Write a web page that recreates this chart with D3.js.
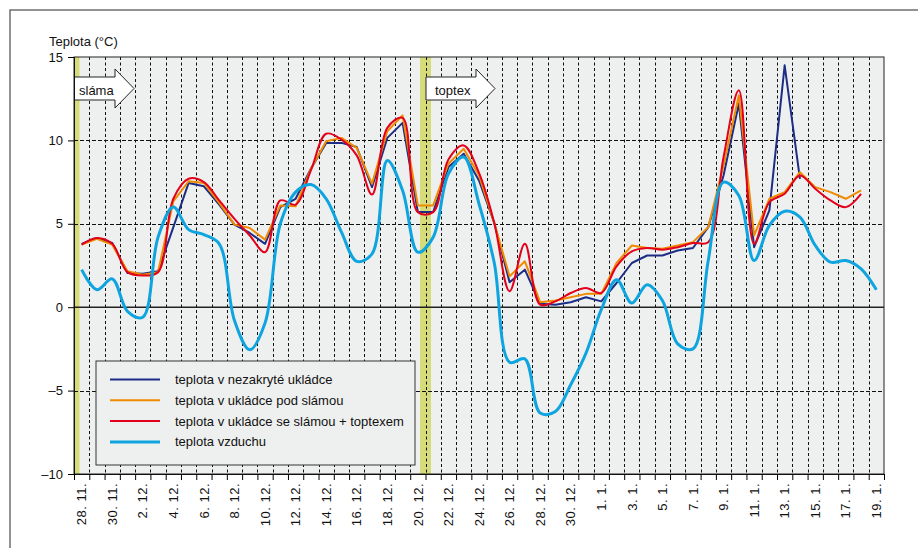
<html>
<head>
  <meta charset="UTF-8">
  <title>Teplota</title>
  <script src="https://d3js.org/d3.v7.min.js"></script>
  <style>
    body { margin: 0; background: #fff; }
    text { font-family: "Liberation Sans", Arial, sans-serif; }
  </style>
</head>
<body>
<svg id="svg1" width="918" height="548"></svg>
<script>

    // categories: one per day, 28.11. .. 19.1.
    const days = ["28. 11.", "29. 11.", "30. 11.", "1. 12.", "2. 12.", "3. 12.", "4. 12.", "5. 12.", "6. 12.",
        "7. 12.", "8. 12.", "9. 12.", "10. 12.", "11. 12.", "12. 12.", "13. 12.", "14. 12.", "15. 12.",
        "16. 12.", "17. 12.", "18. 12.", "19. 12.", "20. 12.", "21. 12.", "22. 12.", "23. 12.", "24. 12.",
        "25. 12.", "26. 12.", "27. 12.", "28. 12.", "29. 12.", "30. 12.", "31. 12.", "1. 1.", "2. 1.",
        "3. 1.", "4. 1.", "5. 1.", "6. 1.", "7. 1.", "8. 1.", "9. 1.", "10. 1.", "11. 1.", "12. 1.",
        "13. 1.", "14. 1.", "15. 1.", "16. 1.", "17. 1.", "18. 1.", "19. 1."];

    // every second day gets a label
    const dayLabels = days.filter((d, i) => i % 2 === 0);

    const yTicks = [-10, -5, 0, 5, 10, 15];

    const nezakryta = [3.8, 4.15, 3.85, 2.05, 2.0, 2.15, 4.8, 7.45, 7.25, 6.15, 4.95, 4.45, 3.8,
        6.0, 6.5, 8.3, 9.85, 9.85, 9.6, 7.2, 10.15, 11.05, 5.7, 5.7, 8.4, 9.2, 7.6,
        5.05, 1.5, 2.25, 0.2, 0.15, 0.3, 0.6, 0.35, 1.45, 2.65, 3.1, 3.1, 3.4, 3.55,
        4.8, 7.9, 12.2, 3.6, 5.8, 14.5, 7.7, null, null, null, null, null];

    const podSlamou = [3.75, 4.1, 3.75, 2.15, 1.95, 2.1, 6.35, 7.55, 7.45, 6.25, 4.95, 4.75, 4.05,
        6.1, 6.05, 8.3, 9.95, 10.15, 9.55, 7.4, 10.55, 11.5, 6.1, 6.1, 8.6, 9.5, 7.9,
        5.05, 1.85, 2.75, 0.3, 0.4, 0.6, 0.8, 0.8, 2.65, 3.7, 3.55, 3.5, 3.7, 3.9,
        4.8, 8.5, 12.7, 4.3, 6.5, 6.9, 8.1, 7.2, 6.9, 6.5, 7.0, null];

    const slamaToptex = [3.75, 4.15, 3.8, 2.1, 1.9, 2.1, 6.5, 7.7, 7.5, 6.4, 5.3, 4.3, 3.3,
        6.4, 6.15, 8.2, 10.4, 10.05, 9.1, 6.75, 10.75, 11.35, 5.7, 5.7, 8.85, 9.7, 8.05,
        5.05, 0.95, 3.8, 0.15, 0.35, 0.85, 1.15, 0.85, 2.45, 3.35, 3.55, 3.45, 3.6, 3.85,
        3.9, 9.0, 13.0, 3.8, 6.3, 6.8, 7.9, 7.1, 6.4, 6.0, 6.8, null];

    const vzduch = [2.25, 1.05, 1.7, -0.25, -0.6, 4.2, 6.0, 4.65, 4.35, 3.8, -0.8, -2.55, -0.95,
        5.0, 6.9, 7.35, 6.5, 4.5, 2.75, 3.2, 8.8, 7.0, 3.3, 4.2, 8.0, 9.0, 6.2,
        2.65, -3.3, -3.1, -6.35, -6.25, -4.65, -2.75, -0.15, 1.65, 0.25, 1.35, 0.4, -2.2, -2.5,
        2.8, 7.5, 6.7, 2.8, 4.9, 5.75, 5.4, 3.7, 2.7, 2.8, 2.3, 1.05];

    // events: start of covering (index of day boundary)
    const eventNames = ["sláma", "toptex"];
    const eventDays = [0, 23];

    const series = [
        { name: "teplota v nezakryté ukládce", values: nezakryta, color: "#1d2d86", width: 2, smooth: false },
        { name: "teplota v ukládce pod slámou", values: podSlamou, color: "#f08a00", width: 2, smooth: false },
        { name: "teplota v ukládce se slámou + toptexem", values: slamaToptex, color: "#e3001b", width: 2, smooth: true },
        { name: "teplota vzduchu", values: vzduch, color: "#0ea4df", width: 3, smooth: true }
    ];

    const svg1 = d3.select("#svg1");
    const plotLeft = 74, plotRight = 884, plotTop = 57, plotBottom = 474;

    const xScale = d3.scaleBand().domain(days).range([plotLeft, plotRight]);
    const bw = xScale.bandwidth();
    const xEdge = d3.scaleLinear().domain([0, days.length]).range([plotLeft, plotRight]);
    const yScale = d3.scaleLinear().domain([-10, 15]).range([plotBottom, plotTop]);
    const crisp = v => Math.round(v) + 0.5;

    // outer frame
    svg1.append("rect")
        .attr("x", 10).attr("y", 10).attr("width", 940).attr("height", 560)
        .attr("fill", "none").attr("stroke", "#6f6f6f").attr("stroke-width", 1.5);

    // plot background
    svg1.append("rect")
        .attr("x", plotLeft).attr("y", plotTop)
        .attr("width", plotRight - plotLeft).attr("height", plotBottom - plotTop)
        .attr("fill", "#eef0ef");

    // yellow event bars
    svg1.append("clipPath").attr("id", "plotclip")
        .append("rect")
        .attr("x", plotLeft).attr("y", plotTop)
        .attr("width", plotRight - plotLeft).attr("height", plotBottom - plotTop);

    svg1.append("g").attr("clip-path", "url(#plotclip)")
        .selectAll("rect").data(eventDays).join("rect")
        .attr("x", d => xEdge(d) - 5.5)
        .attr("y", plotTop)
        .attr("width", 11)
        .attr("height", plotBottom - plotTop)
        .attr("fill", "#d6dc79");

    // vertical gridlines at day boundaries
    svg1.append("g")
        .selectAll("line").data(d3.range(1, days.length)).join("line")
        .attr("x1", d => crisp(xEdge(d))).attr("x2", d => crisp(xEdge(d)))
        .attr("y1", plotTop).attr("y2", plotBottom)
        .attr("stroke", "#111").attr("stroke-width", 1)
        .attr("stroke-dasharray", "3,2.5");

    // horizontal gridlines
    svg1.append("g")
        .selectAll("line").data([-5, 5, 10]).join("line")
        .attr("x1", plotLeft).attr("x2", plotRight)
        .attr("y1", d => crisp(yScale(d))).attr("y2", d => crisp(yScale(d)))
        .attr("stroke", "#111").attr("stroke-width", 1)
        .attr("stroke-dasharray", "4,2");

    svg1.append("line")
        .attr("x1", plotLeft).attr("x2", plotRight)
        .attr("y1", yScale(0)).attr("y2", yScale(0))
        .attr("stroke", "#222").attr("stroke-width", 1.6);

    // plot border
    svg1.append("rect")
        .attr("x", plotLeft).attr("y", plotTop)
        .attr("width", plotRight - plotLeft).attr("height", plotBottom - plotTop)
        .attr("fill", "none").attr("stroke", "#222").attr("stroke-width", 1);

    // arrows
    const arrowLen = [60, 69];
    const arrows = svg1.append("g").selectAll("g").data(eventNames).join("g")
        .attr("transform", (d, i) => `translate(${xEdge(eventDays[i]) + (i === 0 ? 0 : 0.5)},0)`);

    arrows.append("path")
        .attr("d", (d, i) => {
            const L = arrowLen[i], h = L - 19;
            return `M0,77 H${h} V69 L${L},88.5 L${h},108 V100 H0 ` + (i === 0 ? "" : "Z");
        })
        .attr("fill", "#fff").attr("stroke", "#222").attr("stroke-width", 1);

    arrows.append("text")
        .attr("x", (d, i) => i === 0 ? 5 : 9)
        .attr("y", 95)
        .attr("font-size", "13px")
        .attr("fill", "#111")
        .text(d => d);

    // series lines
    const lineLinear = d3.line()
        .defined(d => d != null)
        .x((d, i) => xScale(days[i]) + bw / 2)
        .y(d => yScale(d));
    const lineSmooth = d3.line()
        .defined(d => d != null)
        .x((d, i) => xScale(days[i]) + bw / 2)
        .y(d => yScale(d))
        .curve(d3.curveCatmullRom);

    svg1.append("g").selectAll("path").data(series).join("path")
        .attr("d", s => (s.smooth ? lineSmooth : lineLinear)(s.values))
        .attr("fill", "none")
        .attr("stroke", s => s.color)
        .attr("stroke-width", s => s.width)
        .attr("stroke-linejoin", "round");

    // axes
    const leftAxis = d3.axisLeft(yScale).tickValues(yTicks).tickSize(6).tickPadding(5)
        .tickFormat(d => d < 0 ? "\u2013" + Math.abs(d) : d);
    const yAxisG = svg1.append("g")
        .attr("transform", `translate(${plotLeft},0)`)
        .call(leftAxis);
    yAxisG.select(".domain").attr("stroke", "#111");
    yAxisG.selectAll("text").attr("font-size", "13px").attr("fill", "#111")
        .style("font-family", "'Liberation Sans', Arial, sans-serif");

    const tickAxis = d3.axisBottom(xEdge).tickValues(d3.range(0, days.length + 1))
        .tickFormat("").tickSize(6).tickSizeOuter(0);
    svg1.append("g")
        .attr("transform", `translate(0,${plotBottom})`)
        .call(tickAxis)
        .select(".domain").attr("stroke", "#111");

    const labelAxis = d3.axisBottom(xScale).tickValues(dayLabels).tickSize(0);
    const xAxisG = svg1.append("g")
        .attr("transform", `translate(0,${plotBottom})`)
        .call(labelAxis);
    xAxisG.select(".domain").remove();
    xAxisG.selectAll("text")
        .attr("transform", "rotate(-90)")
        .attr("x", -9).attr("y", 0).attr("dy", "0.36em")
        .style("text-anchor", "end")
        .style("letter-spacing", "0.5px")
        .style("font-family", "'Liberation Sans', Arial, sans-serif")
        .attr("font-size", "13px").attr("fill", "#111");

    svg1.append("text")
        .attr("x", 49).attr("y", 46)
        .attr("font-size", "13px").attr("fill", "#111")
        .text("Teplota (°C)");

    // legend
    const legend = svg1.append("g");
    legend.append("rect")
        .attr("x", 96).attr("y", 361).attr("width", 319).attr("height", 104)
        .attr("fill", "#eef0ef").attr("stroke", "#333").attr("stroke-width", 1);

    const items = legend.selectAll("g.item").data(series).join("g")
        .attr("class", "item")
        .attr("transform", (d, i) => `translate(0,${379.5 + i * 20.8})`);
    items.append("line")
        .attr("x1", 110).attr("x2", 160)
        .attr("stroke", d => d.color)
        .attr("stroke-width", d => d.width);
    items.append("text")
        .attr("x", 175).attr("dy", "0.35em")
        .attr("font-size", "13px").attr("fill", "#111")
        .text(d => d.name);

</script>
</body>
</html>
